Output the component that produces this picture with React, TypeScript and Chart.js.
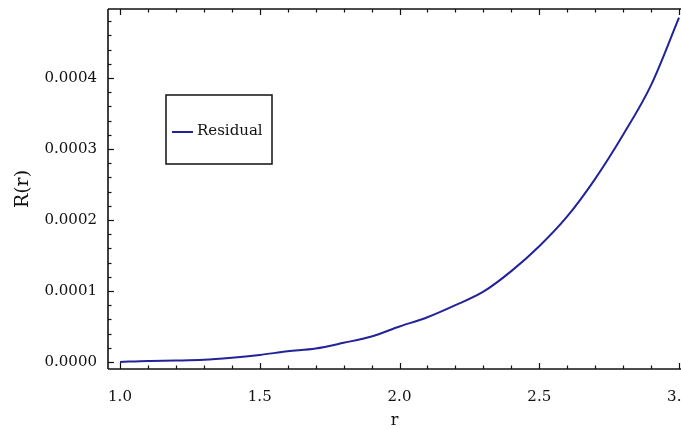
import React, { useEffect, useRef } from "react";
import { Chart, registerables } from "chart.js";

Chart.register(...registerables);

const xValues = [1.0, 1.1, 1.2, 1.3, 1.4, 1.5, 1.6, 1.7, 1.8, 1.9, 2.0, 2.1, 2.2, 2.3, 2.4, 2.5, 2.6, 2.7, 2.8, 2.9, 3.0];
const residualValues = [
  0.0, 0.0000015, 0.000002, 0.000003, 0.000006, 0.00001, 0.000015, 0.000019, 0.000027, 0.000036,
  0.00005, 0.000063, 0.00008, 0.000099, 0.000128, 0.000163, 0.000205, 0.000258, 0.00032, 0.00039, 0.000485,
];
const seriesLabel = "Residual";
const xMajorTicks = [1.0, 1.5, 2.0, 2.5, 3.0];
const xMinorTicks = [1.1, 1.2, 1.3, 1.4, 1.6, 1.7, 1.8, 1.9, 2.1, 2.2, 2.3, 2.4, 2.6, 2.7, 2.8, 2.9];
const yMajorTicks = [0.0, 0.0001, 0.0002, 0.0003, 0.0004];
const yMinorTicks = [
  0.00002, 0.00004, 0.00006, 0.00008, 0.00012, 0.00014, 0.00016, 0.00018, 0.00022, 0.00024,
  0.00026, 0.00028, 0.00032, 0.00034, 0.00036, 0.00038, 0.00042, 0.00044, 0.00046, 0.00048,
];
const xTitle = "r";
const yTitle = "R(r)";

const LINE_COLOR = "#22229a";
const FONT = "'DejaVu Serif', serif";

const framePlugin = {
  id: "frameTicks",
  afterDraw(chart: any) {
    const { ctx, chartArea } = chart;
    const { left, right, top, bottom } = chartArea;
    const xs = chart.scales.x;
    const ys = chart.scales.y;
    ctx.save();
    ctx.strokeStyle = "#111";
    ctx.lineWidth = 1.6;
    const tick = (x1: number, y1: number, x2: number, y2: number) => {
      ctx.beginPath();
      ctx.moveTo(x1, y1);
      ctx.lineTo(x2, y2);
      ctx.stroke();
    };
    // frame: left, top, bottom (right edge lies beyond the visible picture)
    tick(left, top, right + 2, top);
    tick(left, top, left, bottom);
    tick(left, bottom, right + 2, bottom);
    ctx.lineWidth = 1.2;
    const xt = (vals: number[], len: number) => {
      vals.forEach((v) => {
        const px = Math.round(xs.getPixelForValue(v)) + 0.5;
        tick(px, bottom, px, bottom - len);
        tick(px, top, px, top + len);
      });
    };
    const yt = (vals: number[], len: number) => {
      vals.forEach((v) => {
        const py = Math.round(ys.getPixelForValue(v)) + 0.5;
        tick(left, py, left + len, py);
      });
    };
    xt(xMajorTicks, 6);
    xt(xMinorTicks, 3.5);
    yt(yMajorTicks, 6);
    yt(yMinorTicks, 3.5);

    // legend box
    const bx = 166, by = 95, bw = 106, bh = 69;
    ctx.fillStyle = "#fff";
    ctx.fillRect(bx, by, bw, bh);
    ctx.strokeStyle = "#111";
    ctx.lineWidth = 1.5;
    ctx.strokeRect(bx, by, bw, bh);
    const ds = chart.data.datasets[0];
    ctx.strokeStyle = ds.borderColor;
    ctx.lineWidth = 2;
    tick(172, 132, 193, 132);
    ctx.fillStyle = "#111";
    ctx.font = `15px ${FONT}`;
    ctx.textAlign = "left";
    ctx.textBaseline = "middle";
    ctx.fillText(ds.label, 197, 131);
    ctx.restore();
  },
};

export default function App() {
  const ref = useRef<HTMLCanvasElement>(null);
  useEffect(() => {
    if (!ref.current) return;
    const chart = new Chart(ref.current, {
      type: "line",
      data: {
        datasets: [
          {
            label: seriesLabel,
            data: xValues.map((x, i) => ({ x, y: residualValues[i] })),
            borderColor: LINE_COLOR,
            backgroundColor: LINE_COLOR,
            borderWidth: 2,
            pointRadius: 0,
            cubicInterpolationMode: "monotone",
            fill: false,
          },
        ],
      },
      plugins: [framePlugin],
      options: {
        responsive: false,
        animation: false,
        layout: { padding: { top: 9, left: 0, right: 0, bottom: 0 } },
        plugins: { legend: { display: false }, tooltip: { enabled: false } },
        scales: {
          x: {
            type: "linear",
            min: 0.9571,
            max: 3.0071,
            grid: { display: false, drawTicks: false },
            border: { display: false },
            afterBuildTicks: (s: any) => {
              s.ticks = xMajorTicks.map((v) => ({ value: v }));
            },
            afterFit: (s: any) => {
              s.height = 61;
              s.paddingLeft = 0;
              s.paddingRight = 0;
            },
            ticks: {
              autoSkip: false,
              maxRotation: 0,
              padding: 19,
              color: "#111",
              font: { family: FONT, size: 15 },
              callback: (v: any) => Number(v).toFixed(1),
            },
            title: {
              display: true,
              text: xTitle,
              color: "#111",
              font: { family: FONT, size: 16 },
              padding: { top: 0, bottom: 0 },
            },
          },
          y: {
            type: "linear",
            min: -0.00000986,
            max: 0.0004972,
            grid: { display: false, drawTicks: false },
            border: { display: false },
            afterBuildTicks: (s: any) => {
              s.ticks = yMajorTicks.map((v) => ({ value: v }));
            },
            afterFit: (s: any) => {
              s.width = 108;
              s.paddingTop = 0;
              s.paddingBottom = 0;
            },
            ticks: {
              autoSkip: false,
              padding: 11,
              color: "#111",
              font: { family: FONT, size: 15 },
              callback: (v: any) => Number(v).toFixed(4),
            },
            title: {
              display: true,
              text: yTitle,
              color: "#111",
              font: { family: FONT, size: 19 },
              padding: { top: 12, bottom: 0 },
            },
          },
        },
      },
    });
    return () => chart.destroy();
  }, []);
  return (
    <div style={{ position: "fixed", left: 0, top: 0, width: 681, height: 430, background: "#fff" }}>
      <canvas ref={ref} width={681} height={430} />
    </div>
  );
}
